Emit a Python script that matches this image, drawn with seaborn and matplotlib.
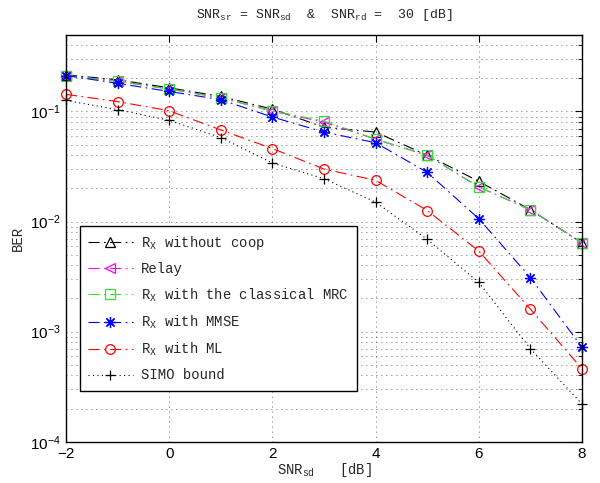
import matplotlib
matplotlib.use("Agg")
import matplotlib.pyplot as plt
import seaborn as sns
import pandas as pd
from matplotlib.ticker import LogLocator, NullFormatter, FixedLocator

snr_sd = [-2, -1, 0, 1, 2, 3, 4, 5, 6, 7, 8]

ber_no_coop = [0.215, 0.194, 0.164, 0.137, 0.105, 0.072, 0.065, 0.040, 0.0232, 0.0128, 0.0064]
ber_relay = [0.212, 0.188, 0.160, 0.133, 0.101, 0.080, 0.056, 0.040, 0.0206, 0.0128, 0.0064]
ber_mrc = [0.212, 0.188, 0.160, 0.133, 0.101, 0.082, 0.056, 0.040, 0.0206, 0.0128, 0.0064]
ber_mmse = [0.212, 0.180, 0.152, 0.128, 0.089, 0.065, 0.052, 0.028, 0.0106, 0.0031, 0.00072]
ber_ml = [0.143, 0.123, 0.1015, 0.068, 0.046, 0.030, 0.0237, 0.0126, 0.0054, 0.0016, 0.00046]
ber_simo = [0.126, 0.104, 0.083, 0.058, 0.034, 0.0245, 0.015, 0.0069, 0.0028, 0.0007, 0.00022]

labels = [
    r"R$_{X}$ without coop",
    "Relay",
    r"R$_{X}$ with the classical MRC",
    r"R$_{X}$ with MMSE",
    r"R$_{X}$ with ML",
    "SIMO bound",
]
series = [ber_no_coop, ber_relay, ber_mrc, ber_mmse, ber_ml, ber_simo]
colors = ["#000000", "#ff00ff", "#33dd33", "#0000ff", "#ff0000", "#000000"]
markers = ["^", "<", "s", (8, 2, 0), "o", "+"]
dashdot = (0, (10, 4, 1.5, 4))
styles = [dashdot, dashdot, dashdot, dashdot, dashdot, (0, (1, 3))]

sns.set_style("white")
plt.rcParams["font.family"] = ["Liberation Sans", "DejaVu Sans"]
plt.rcParams["mathtext.fontset"] = "custom"
plt.rcParams["mathtext.rm"] = "Liberation Mono"
plt.rcParams["mathtext.it"] = "Liberation Mono"
plt.rcParams["mathtext.tt"] = "Liberation Mono"

mono = "Liberation Mono"

fig = plt.figure(figsize=(6, 4.83), dpi=100)
ax = fig.add_axes([0.11, 0.0855, 0.86, 0.843])

for y, lab, c, m, ls in zip(series, labels, colors, markers, styles):
    df = pd.DataFrame({"snr": snr_sd, "ber": y})
    sns.lineplot(
        data=df,
        x="snr",
        y="ber",
        ax=ax,
        label=lab,
        color=c,
        marker=m,
        markersize=7 if m != (8, 2, 0) else 8,
        markerfacecolor="none",
        markeredgecolor=c,
        markeredgewidth=0.9,
        linestyle=ls,
        linewidth=0.8,
        errorbar=None,
        clip_on=False,
    )

ax.set_yscale("log")
ax.set_xlim(-2, 8)
ax.set_ylim(1e-4, 0.5)
ax.xaxis.set_major_locator(FixedLocator([-2, 0, 2, 4, 6, 8]))
ax.yaxis.set_major_locator(LogLocator(base=10, numticks=10))
ax.yaxis.set_minor_locator(LogLocator(base=10, subs=range(2, 10), numticks=10))
ax.yaxis.set_minor_formatter(NullFormatter())

grid_ls = (0, (1, 5))
ax.grid(True, which="major", axis="both", color="#333333", linestyle=grid_ls, linewidth=0.6)
ax.grid(True, which="minor", axis="y", color="#333333", linestyle=grid_ls, linewidth=0.6)

ax.tick_params(which="both", direction="in", top=True, right=True, labelsize=11,
               colors="black")
ax.tick_params(which="major", length=5, width=0.8)
ax.tick_params(which="minor", length=3, width=0.6)
for s in ax.spines.values():
    s.set_color("black")
    s.set_linewidth(1.0)

ax.set_title(r"SNR$_{sr}$ = SNR$_{sd}$  &  SNR$_{rd}$ =  30 [dB]",
             family=mono, fontsize=9.5, pad=12)
ax.set_xlabel(r"SNR$_{sd}$   [dB]", family=mono, fontsize=10, labelpad=0)
ax.set_ylabel("BER", family=mono, fontsize=10, labelpad=4)

leg = ax.legend(
    loc="lower left",
    bbox_to_anchor=(0.027, 0.125),
    borderaxespad=0,
    prop={"family": mono, "size": 10},
    frameon=True,
    fancybox=False,
    framealpha=1,
    edgecolor="black",
    handlelength=3.2,
    labelspacing=0.72,
    borderpad=0.6,
    handletextpad=0.6,
)
leg.get_frame().set_linewidth(1.0)

fig.savefig("out.png", dpi=100)
